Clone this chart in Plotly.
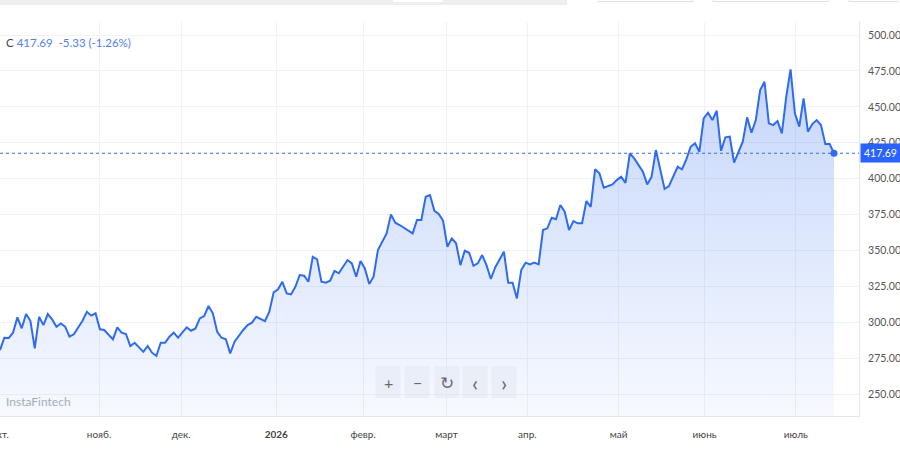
import plotly.graph_objects as go

# Daily close values (trading-day sequence)
prices = [
    280.6, 289.2, 289.0, 292.7, 303.4, 295.8, 305.7, 301.0, 281.8, 303.8,
    298.0, 305.7, 302.0, 296.9, 299.2, 296.9, 290.0, 291.6, 296.4, 301.0,
    307.3, 304.6, 306.2, 295.1, 294.6, 291.1, 288.1, 296.4, 292.7, 291.8,
    283.4, 285.7, 282.9, 279.4, 283.4, 278.8, 276.5, 285.7, 285.7, 289.9,
    292.7,
    289.2, 293.0, 296.4, 294.1, 295.7, 302.7, 304.3, 311.3, 306.2, 293.4,
    289.2, 288.1, 278.3, 286.4, 290.6, 294.6, 298.0, 299.7, 303.8, 302.0,
    300.8, 307.3, 320.8, 322.9, 328.2, 320.1, 319.4, 324.7, 332.9, 332.4,
    328.2, 345.6, 343.8, 328.2, 327.5, 328.9, 335.7, 334.1, 339.2, 343.3,
    341.0, 331.7,
    342.6, 337.5, 326.6, 331.7, 350.3, 356.1, 361.9, 375.1, 369.3, 367.7,
    365.8, 363.7, 361.9, 371.2, 371.2, 387.4, 388.6, 377.6, 375.4, 370.7,
    352.6, 358.4, 355.0, 339.8, 349.8, 348.4, 339.3, 341.0, 346.8, 339.8,
    330.1, 338.2, 343.3, 349.1, 327.5, 327.5, 316.6, 336.4, 341.5, 340.3,
    341.5, 340.3,
    364.2, 365.4, 372.8, 371.7, 381.6, 377.0, 364.2, 370.5, 368.9, 368.9,
    384.4, 380.4, 406.5, 403.7, 393.7, 395.1, 396.0, 399.0, 401.3, 397.1,
    417.6, 414.1, 409.5, 404.8, 396.0, 401.3, 419.9, 407.2, 392.8, 394.8,
    401.3, 408.3, 406.5, 413.4,
    422.2, 424.6, 418.7, 442.0, 445.9, 440.8, 447.3, 419.4, 428.8, 429.2,
    411.1, 418.7, 425.7, 442.7, 432.0, 440.8, 461.7, 467.5, 438.5, 437.3,
    440.1, 431.5, 457.0, 476.1, 445.5, 436.2, 455.9, 432.7, 438.0, 440.8,
    437.3, 424.1, 424.1, 417.69,
]

month_labels = ["окт.", "нояб.", "дек.", "<b>2026</b>", "февр.", "март",
                "апр.", "май", "июнь", "июль"]
month_start_idx = [0, 22.8, 41.7, 63.6, 83.6, 102.8, 121.4, 142.4, 162.2, 183.2]

y_ticks = [250, 275, 300, 325, 350, 375, 400, 425, 450, 475, 500]

last_close = prices[-1]
change = -5.33
change_pct = -1.26

idx = list(range(len(prices)))

LINE = "#2f6bf0"
BLUE_BOX = "#2962ff"
GRID = "#f0f2f7"
AXLINE = "#e3e6ee"
FONT = "Lato"

W, H = 900, 458
ML, MR, MT, MB = 0, 41, 22, 42
PW, PH = W - ML - MR, H - MT - MB

def px_x(p):
    return p / PW

def px_y(p):
    return (H - MB - p) / PH

fig = go.Figure()
fig.add_trace(go.Scatter(
    x=idx, y=prices, mode="lines",
    line=dict(color=LINE, width=2),
    fill="tozeroy",
    fillgradient=dict(type="vertical",
                      colorscale=[[0, "rgba(47,107,240,0.04)"],
                                  [1, "rgba(47,107,240,0.28)"]],
                      start=234.7, stop=480),
    hoverinfo="skip",
))
fig.add_trace(go.Scatter(
    x=[idx[-1]], y=[last_close], mode="markers",
    marker=dict(color=LINE, size=7), hoverinfo="skip",
))

x_max = (len(prices) - 1) * 859 / 834

shapes = [
    dict(type="line", xref="paper", yref="y", x0=0, x1=1,
         y0=last_close, y1=last_close,
         line=dict(color=LINE, width=1, dash="dot")),
    # top toolbar remnants
    dict(type="rect", xref="paper", yref="paper", x0=px_x(0), x1=px_x(567),
         y0=px_y(5), y1=px_y(-2), fillcolor="#eeeeee", line_width=0, layer="above"),
    dict(type="rect", xref="paper", yref="paper", x0=px_x(393), x1=px_x(443),
         y0=px_y(2), y1=px_y(-2), fillcolor="#ffffff", line_width=0, layer="above"),
    dict(type="rect", xref="paper", yref="paper", x0=px_x(598), x1=px_x(693),
         y0=px_y(1.5), y1=px_y(-4), fillcolor="#ffffff",
         line=dict(color="#e2e2e2", width=1), layer="above"),
    dict(type="rect", xref="paper", yref="paper", x0=px_x(713), x1=px_x(828),
         y0=px_y(1.5), y1=px_y(-4), fillcolor="#ffffff",
         line=dict(color="#e2e2e2", width=1), layer="above"),
    dict(type="rect", xref="paper", yref="paper", x0=px_x(849), x1=px_x(898),
         y0=px_y(1.5), y1=px_y(-4), fillcolor="#ffffff",
         line=dict(color="#e2e2e2", width=1), layer="above"),
]

annotations = [
    dict(xref="paper", yref="paper", x=0, y=px_y(42), xanchor="left",
         yanchor="middle", xshift=4, showarrow=False,
         text=(f"<span style='color:#444'>C</span> {last_close:.2f}  "
               f"{change:.2f} ({change_pct:.2f}%)"),
         font=dict(family=FONT, size=11.5, color="#4f7ff0")),
    dict(xref="paper", yref="y", x=1, y=last_close, xanchor="left",
         yanchor="middle", xshift=1, showarrow=False,
         text=f"{last_close:.2f}", bgcolor=BLUE_BOX, borderpad=3,
         font=dict(family=FONT, size=10.5, color="#ffffff")),
    dict(xref="paper", yref="paper", x=0, y=px_y(401), xanchor="left",
         yanchor="middle", xshift=4, showarrow=False, text="InstaFintech",
         font=dict(family=FONT, size=12, color="#a4adbb")),
]

# zoom/navigation buttons
btn_centers = [388, 417, 447, 475, 504]
btn_syms = ["+", "−", "↻", "‹", "›"]
btn_sizes = [16, 16, 17, 22, 22]
for cx, s, fs in zip(btn_centers, btn_syms, btn_sizes):
    shapes.append(dict(type="rect", xref="paper", yref="paper",
                       x0=px_x(cx - 12.5), x1=px_x(cx + 12.5),
                       y0=px_y(398), y1=px_y(366),
                       fillcolor="rgba(228,232,240,0.55)", line_width=0,
                       layer="above"))
    annotations.append(dict(xref="paper", yref="paper", x=px_x(cx), y=px_y(382),
                            xanchor="center", yanchor="middle", showarrow=False,
                            text=s, font=dict(family=FONT, size=fs,
                                              color="#666a73")))

fig.update_layout(
    width=W, height=H,
    margin=dict(l=ML, r=MR, t=MT, b=MB, autoexpand=False),
    paper_bgcolor="#ffffff", plot_bgcolor="#ffffff",
    showlegend=False, hovermode=False,
    shapes=shapes, annotations=annotations,
    xaxis=dict(range=[0, x_max], tickmode="array", tickvals=month_start_idx,
               ticktext=month_labels, showgrid=True, gridcolor=GRID,
               gridwidth=1, zeroline=False, showline=True, linecolor=AXLINE,
               ticks="", tickfont=dict(family=FONT, size=10, color="#444"),
               ticklabelstandoff=9, ticklabeloverflow="allow",
               automargin=False, fixedrange=True),
    yaxis=dict(range=[234.7, 509.1], side="right", tickmode="array",
               tickvals=y_ticks, ticktext=[f"{v:.2f}" for v in y_ticks],
               showgrid=True, gridcolor=GRID, gridwidth=1, zeroline=False,
               showline=True, linecolor=AXLINE, ticks="",
               tickfont=dict(family=FONT, size=10.5, color="#555"),
               ticklabelstandoff=6, automargin=False, fixedrange=True),
)

fig.write_html("out.html", config={"displayModeBar": False, "staticPlot": True})
